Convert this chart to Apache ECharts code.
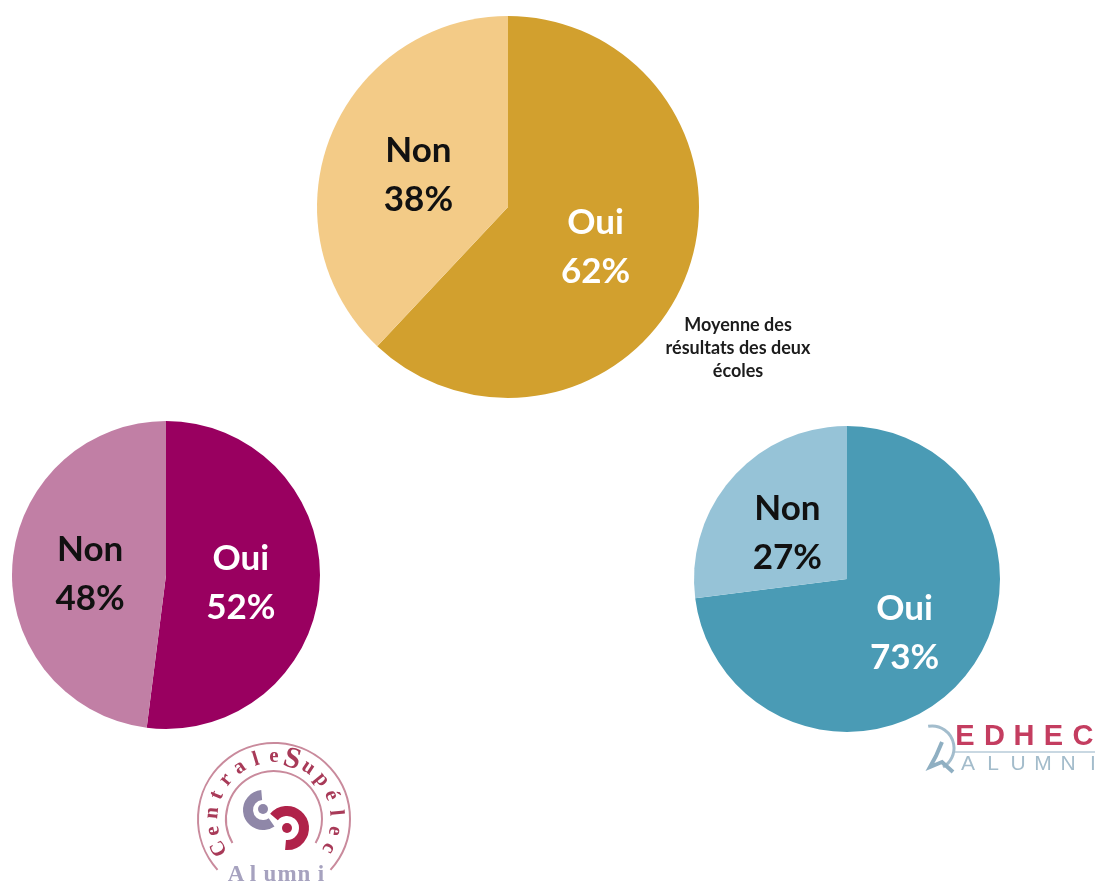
<!DOCTYPE html>
<html>
<head>
<meta charset="utf-8">
<title>Oui / Non</title>
<style>
  html, body { margin: 0; padding: 0; background: #fff; }
  #main { width: 1101px; height: 883px; filter: blur(0.6px); }
</style>
<script src="https://cdn.jsdelivr.net/npm/echarts@6/dist/echarts.min.js"></script>
</head>
<body>
<div id="main"></div>
<script>
// valeurs
var categories = ['Oui', 'Non'];
var moyenne = [62, 38];
var centrale = [52, 48];
var edhec = [73, 27];
var captionLines = ['Moyenne des', 'résultats des deux', 'écoles'];
var centraleLetters = ['C', 'e', 'n', 't', 'r', 'a', 'l', 'e', 'S', 'u', 'p', 'é', 'l', 'e', 'c'];
var alumniLetters = ['A', 'l', 'u', 'm', 'n', 'i'];
var edhecLetters = ['E', 'D', 'H', 'E', 'C'];
var edhecAlumniLetters = ['A', 'L', 'U', 'M', 'N', 'I'];

var chart = echarts.init(document.getElementById('main'));

function makePie(values, center, radius, colors, labelOffsets) {
  var labelColors = ['#ffffff', '#111111'];
  return {
    type: 'pie',
    center: center,
    radius: [0, radius],
    startAngle: 90,
    clockwise: true,
    silent: true,
    animation: false,
    labelLine: { show: false },
    label: {
      show: true,
      position: 'inside',
      fontFamily: 'Lato',
      fontWeight: 'bold',
      fontSize: 35,
      lineHeight: 49,
      formatter: function (p) { return p.name + '\n' + p.value + '%'; }
    },
    data: categories.map(function (name, i) {
      return {
        name: name,
        value: values[i],
        itemStyle: { color: colors[i] },
        label: { color: labelColors[i], offset: labelOffsets[i] }
      };
    })
  };
}

var graphics = [];

function addText(str, x, y, font, fill, rotation) {
  graphics.push({
    type: 'text',
    x: x,
    y: y,
    rotation: rotation || 0,
    silent: true,
    style: { text: str, font: font, fill: fill, align: 'center', verticalAlign: 'middle' }
  });
}

function addArc(cx, cy, r, start, end, clockwise, color, width) {
  graphics.push({
    type: 'arc',
    silent: true,
    shape: { cx: cx, cy: cy, r: r, startAngle: start, endAngle: end, clockwise: clockwise },
    style: { stroke: color, lineWidth: width, fill: null }
  });
}

function addCircle(cx, cy, r, color) {
  graphics.push({
    type: 'circle',
    silent: true,
    shape: { cx: cx, cy: cy, r: r },
    style: { fill: color }
  });
}

// legende de la moyenne
captionLines.forEach(function (line, i) {
  addText(line, 738, 325 + i * 23, 'bold 18px Lato', '#1c1c1c');
});

// logo CentraleSupelec
var logoX = 274, logoY = 819, rad = Math.PI / 180;
addArc(logoX, logoY, 76, 138 * rad, 42 * rad, true, '#c98a9c', 2);
addArc(logoX, logoY, 48, 150 * rad, 30 * rad, true, '#c98a9c', 2);
centraleLetters.forEach(function (ch, i) {
  var a = (-118 + i * 236 / 14) * rad;
  var isBig = ch === 'S';
  addText(ch, logoX + 62 * Math.sin(a), logoY - 62 * Math.cos(a),
    (isBig ? 'bold 30px' : 'bold 21px') + ' "Liberation Serif"', '#a83a58', -a);
});
alumniLetters.forEach(function (ch, i) {
  addText(ch, 236 + i * 17, 875, 'bold 23px "Liberation Serif"', '#a6a2bf');
});
addArc(263, 810, 15, -95 * rad, 55 * rad, false, '#8f87a8', 10);
addCircle(263, 809, 5, '#8f87a8');
addArc(287, 828, 17, -140 * rad, 95 * rad, true, '#b0234a', 10);
addCircle(287, 828, 5, '#b0234a');

// logo EDHEC
edhecLetters.forEach(function (ch, i) {
  addText(ch, 965 + i * 29.5, 737, 'bold 29px "Liberation Sans"', '#c43d60');
});
edhecAlumniLetters.forEach(function (ch, i) {
  addText(ch, 968 + i * 25, 764, '21px "Liberation Sans"', '#a3bccb');
});
graphics.push({
  type: 'line',
  silent: true,
  shape: { x1: 953, y1: 752, x2: 1095, y2: 752 },
  style: { stroke: '#c9d8e2', lineWidth: 2 }
});
addArc(932, 748, 22, -100 * rad, 60 * rad, true, '#a3bdcd', 3);
graphics.push({
  type: 'polyline',
  silent: true,
  shape: { points: [[942, 742], [936, 756], [930, 767], [942, 762], [953, 772]] },
  style: { stroke: '#8fafc2', lineWidth: 4, fill: null }
});

var option = {
  animation: false,
  backgroundColor: '#ffffff',
  series: [
    makePie(moyenne, [508, 207], 191, ['#d2a02e', '#f3cb87'], [[-4, 4], [2, 4]]),
    makePie(centrale, [166, 575], 154, ['#990060', '#c17fa5'], [[-5, 3], [4, 4]]),
    makePie(edhec, [847, 579], 153, ['#4a9bb5', '#96c3d7'], [[-2, 2], [0, 7]])
  ],
  graphic: graphics
};

chart.setOption(option);
</script>
</body>
</html>
